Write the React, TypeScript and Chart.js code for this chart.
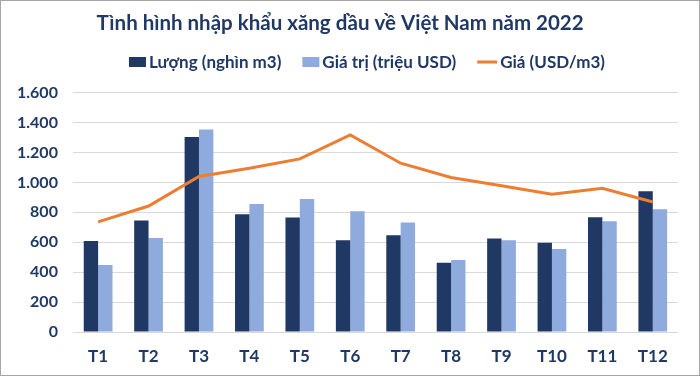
import React, { useEffect, useRef } from "react";
import { Chart, registerables } from "chart.js";

Chart.register(...registerables);

const categories = ["T1", "T2", "T3", "T4", "T5", "T6", "T7", "T8", "T9", "T10", "T11", "T12"];
const luong = [609, 745, 1303, 787, 765, 614, 647, 463, 625, 596, 767, 940];
const giaTri = [448, 629, 1354, 855, 889, 807, 731, 481, 614, 554, 740, 820];
const gia = [736, 842, 1039, 1095, 1157, 1317, 1128, 1033, 977, 920, 960, 869];
const yTicks = { min: 0, max: 1600, step: 200 };

const NAVY = "#1F3864";
const FONT = "Lato, 'Open Sans', sans-serif";

function fmt(v: number): string {
  return String(v).replace(/\B(?=(\d{3})+(?!\d))/g, ".");
}

const customLegend = {
  id: "customLegend",
  afterDraw(chart: any) {
    const ctx = chart.ctx as CanvasRenderingContext2D;
    ctx.save();
    ctx.font = `bold 17px ${FONT}`;
    ctx.textBaseline = "middle";
    ctx.textAlign = "left";
    const items = chart.data.datasets.map((ds: any) => ({
      label: ds.label as string,
      isLine: ds.type === "line",
      color: ds.type === "line" ? ds.borderColor : ds.backgroundColor,
    }));
    const swGap = 3;
    const itemGap = 21;
    const widths = items.map((it: any) => (it.isLine ? 20 : 17) + swGap + ctx.measureText(it.label).width);
    const total = widths.reduce((a: number, b: number) => a + b, 0) + itemGap * (items.length - 1);
    let x = 366 - total / 2;
    const y = 61;
    items.forEach((it: any, i: number) => {
      if (it.isLine) {
        ctx.strokeStyle = it.color;
        ctx.lineWidth = 3;
        ctx.beginPath();
        ctx.moveTo(x, y);
        ctx.lineTo(x + 20, y);
        ctx.stroke();
      } else {
        ctx.fillStyle = it.color;
        ctx.fillRect(x, y - 5, 17, 10);
      }
      const sw = it.isLine ? 20 : 17;
      ctx.fillStyle = NAVY;
      ctx.fillText(it.label, x + sw + swGap, y + 1);
      x += widths[i] + itemGap;
    });
    ctx.restore();
  },
};

export default function App() {
  const ref = useRef<HTMLCanvasElement | null>(null);
  useEffect(() => {
    document.body.style.margin = "0";
    const canvas = ref.current;
    if (!canvas) return;
    const chart = new Chart(canvas, {
      type: "bar",
      data: {
        labels: categories,
        datasets: [
          {
            type: "bar",
            label: "Lượng (nghìn m3)",
            data: luong,
            backgroundColor: "#203864",
            categoryPercentage: 0.57,
            barPercentage: 1.0,
            order: 1,
          } as any,
          {
            type: "bar",
            label: "Giá trị (triệu USD)",
            data: giaTri,
            backgroundColor: "#8FAADC",
            categoryPercentage: 0.57,
            barPercentage: 1.0,
            order: 1,
          } as any,
          {
            type: "line",
            label: "Giá (USD/m3)",
            data: gia,
            borderColor: "#ED7D31",
            backgroundColor: "#ED7D31",
            borderWidth: 3,
            pointRadius: 0,
            tension: 0,
            order: 0,
          } as any,
        ],
      },
      plugins: [customLegend],
      options: {
        animation: false,
        responsive: false,
        maintainAspectRatio: false,
        layout: { padding: { left: 1, right: 21, top: 4, bottom: 0 } },
        plugins: {
          tooltip: { enabled: false },
          legend: { display: false },
          title: {
            display: true,
            text: "Tình hình nhập khẩu xăng dầu về Việt Nam năm 2022",
            color: NAVY,
            font: { family: FONT, size: 20.5, weight: "bold" },
            padding: { top: 6, bottom: 57 },
          },
        },
        scales: {
          x: {
            grid: { display: false, drawTicks: false },
            border: { display: false },
            afterFit: (scale: any) => {
              scale.height = 43;
            },
            ticks: {
              color: NAVY,
              padding: 14,
              maxRotation: 0,
              font: { family: FONT, size: 17, weight: "bold" },
            },
          },
          y: {
            min: yTicks.min,
            max: yTicks.max,
            grid: { color: "#D9D9D9", lineWidth: 1, drawTicks: false },
            border: { display: false },
            ticks: {
              stepSize: yTicks.step,
              color: NAVY,
              padding: 15,
              font: { family: FONT, size: 16, weight: "bold" },
              callback: (v: any) => fmt(Number(v)),
            },
          },
        },
      },
    });
    return () => chart.destroy();
  }, []);
  return (
    <div
      style={{
        width: 700,
        height: 376,
        boxSizing: "border-box",
        border: "1px solid #A6A6A6",
        background: "#fff",
      }}
    >
      <canvas ref={ref} width={698} height={374} style={{ display: "block" }} />
    </div>
  );
}
